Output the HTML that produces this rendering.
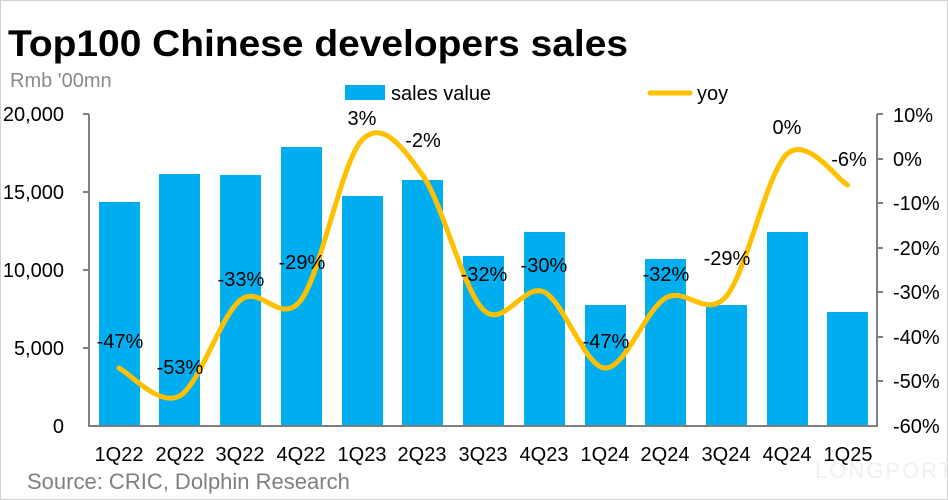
<!DOCTYPE html>
<html><head><meta charset="utf-8"><style>
body{margin:0;background:#fff}
svg{display:block;font-family:"Liberation Sans","DejaVu Sans",sans-serif}
</style></head><body>
<svg width="948" height="500" viewBox="0 0 948 500">
<rect x="0.5" y="0.5" width="947" height="499" fill="#fff" stroke="#d0d0d0"/>
<text x="8" y="56" font-size="37" font-weight="bold" fill="#000" textLength="620" lengthAdjust="spacingAndGlyphs">Top100 Chinese developers sales</text>
<text x="10" y="87" font-size="20" fill="#8a8a8a">Rmb '00mn</text>
<rect x="345" y="85" width="40" height="15" fill="#00aeef"/>
<text x="391" y="100" font-size="20" fill="#000">sales value</text>
<line x1="650" y1="93" x2="690" y2="93" stroke="#ffc000" stroke-width="5" stroke-linecap="round"/>
<text x="697" y="100" font-size="20" fill="#000">yoy</text>
<g fill="#00aeef">
<rect x="99" y="202" width="41" height="224"/>
<rect x="159" y="174" width="41" height="252"/>
<rect x="220" y="175" width="41" height="251"/>
<rect x="281" y="147" width="41" height="279"/>
<rect x="342" y="196" width="41" height="230"/>
<rect x="402" y="180" width="41" height="246"/>
<rect x="463" y="256" width="41" height="170"/>
<rect x="524" y="232" width="41" height="194"/>
<rect x="585" y="305" width="41" height="121"/>
<rect x="645" y="259" width="41" height="167"/>
<rect x="706" y="305" width="41" height="121"/>
<rect x="767" y="232" width="41" height="194"/>
<rect x="827" y="312" width="41" height="114"/>
</g>
<g stroke="#7f7f7f" stroke-width="2" fill="none">
<path d="M89 114V426H877V114"/>
<path d="M83 114H89M83 192H89M83 270H89M83 348H89"/>
<path d="M877 114H883M877 159H883M877 203H883M877 248H883M877 292H883M877 337H883M877 381H883"/>
</g>
<g font-size="20" fill="#000" text-anchor="end">
<text x="64" y="121">20,000</text><text x="64" y="199">15,000</text><text x="64" y="277">10,000</text><text x="64" y="355">5,000</text><text x="64" y="433">0</text>
</g>
<g font-size="20" fill="#000" text-anchor="start">
<text x="893" y="122">10%</text><text x="893" y="166">0%</text><text x="893" y="210">-10%</text><text x="893" y="255">-20%</text><text x="893" y="299">-30%</text><text x="893" y="344">-40%</text><text x="893" y="388">-50%</text><text x="893" y="433">-60%</text>
</g>
<g font-size="20" fill="#000" text-anchor="middle">
<text x="119" y="461">1Q22</text><text x="180" y="461">2Q22</text><text x="240" y="461">3Q22</text><text x="301" y="461">4Q22</text><text x="362" y="461">1Q23</text><text x="422" y="461">2Q23</text><text x="483" y="461">3Q23</text><text x="544" y="461">4Q23</text><text x="605" y="461">1Q24</text><text x="665" y="461">2Q24</text><text x="726" y="461">3Q24</text><text x="787" y="461">4Q24</text><text x="848" y="461">1Q25</text>
</g>
<path fill="none" stroke="#ffc000" stroke-width="5" stroke-linecap="round" d="M119 368 C129.1 372.7 159.25 407.3 179.5 396 C199.7 384.7 220.3 316 240.5 300 C260.7 284 280.8 326.7 301 300 C321.2 273.3 341.8 160.8 362 140 C382.2 119.2 402.3 146.7 422.5 175 C442.7 203.3 463.3 290.5 483.5 310 C503.7 329.5 523.8 282.3 544 292 C564.2 301.7 584.8 367 605 368 C625.2 369 645.3 310 665.5 298 C685.7 286 706.3 320 726.5 296 C746.7 272 766.8 172.5 787 154 C807.2 135.5 837.4 179.8 847.5 185"/>
<g font-size="20" fill="#000" text-anchor="middle">
<text x="120" y="348">-47%</text><text x="180" y="374">-53%</text><text x="241" y="286">-33%</text><text x="302" y="269">-29%</text>
<text x="362" y="125">3%</text><text x="423" y="147">-2%</text><text x="484" y="281">-32%</text><text x="544" y="272">-30%</text>
<text x="606" y="348">-47%</text><text x="666" y="281">-32%</text><text x="727" y="265">-29%</text><text x="787" y="134">0%</text><text x="849" y="166">-6%</text>
</g>
<text x="27" y="489" font-size="22" fill="#7f7f7f">Source: CRIC, Dolphin Research</text>
<text x="815" y="478" font-size="22" fill="#f0f0f0" letter-spacing="2">LONGPORT</text>
</svg>
</body></html>
